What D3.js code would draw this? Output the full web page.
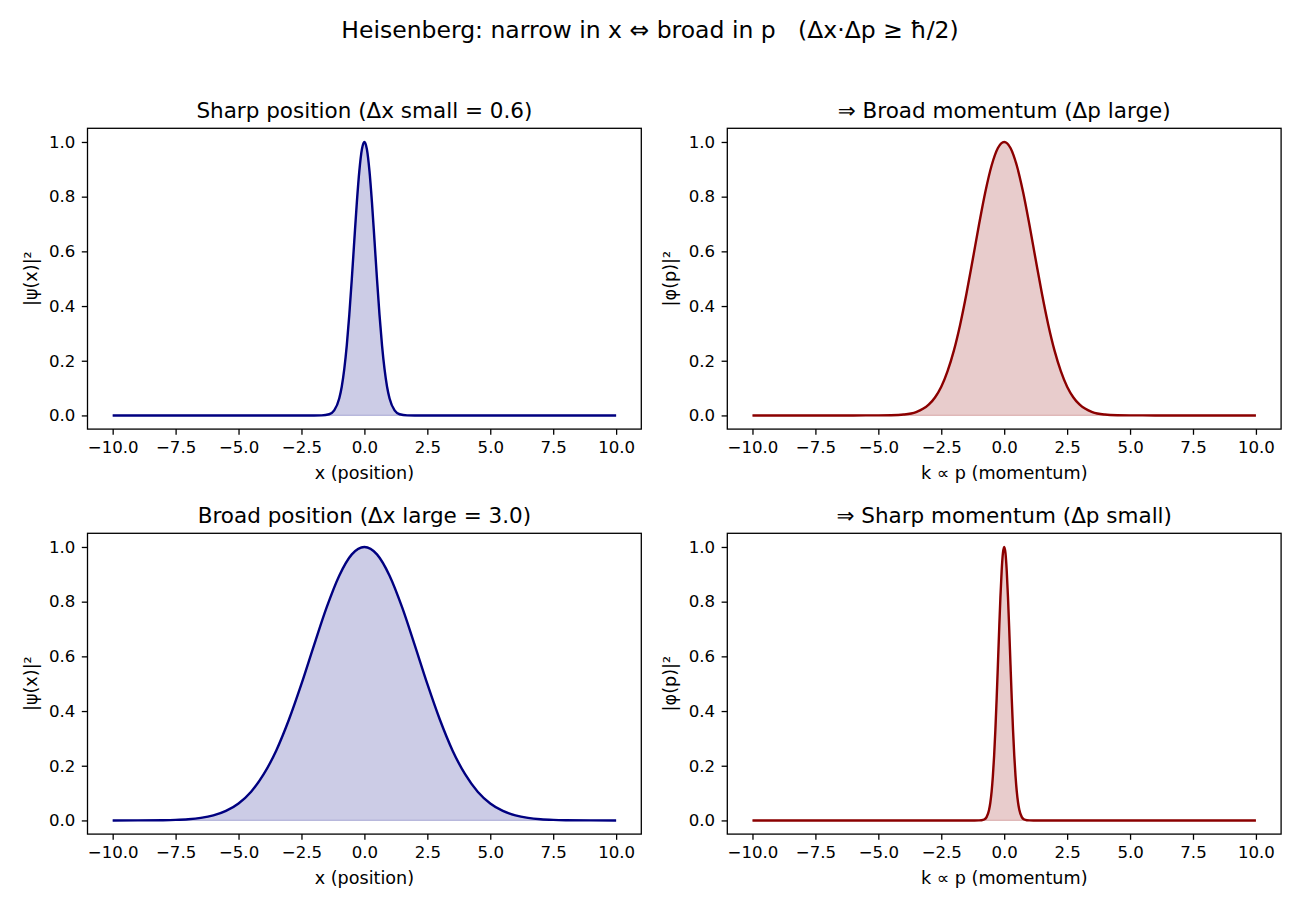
<!DOCTYPE html>
<html>
<head>
<meta charset="utf-8">
<script src="https://cdn.jsdelivr.net/npm/d3@7"></script>
<style>
  body { margin: 0; background: #fff; }
  svg { font-family: "DejaVu Sans", sans-serif; }
</style>
</head>
<body>
<div id="chart"></div>
<script>
// values
const posNarrowX = [-10, -2.0, -1.7, -1.4, -1.2, -1.0, -0.9, -0.8, -0.7, -0.6, -0.5, -0.4, -0.3, -0.2, -0.1, 0,
    0.1, 0.2, 0.3, 0.4, 0.5, 0.6, 0.7, 0.8, 0.9, 1.0, 1.2, 1.4, 1.7, 2.0, 10];
const posNarrowY = [0, 0, 0.0003, 0.0043, 0.0183, 0.062, 0.105, 0.169, 0.256, 0.368, 0.499, 0.641, 0.779, 0.895, 0.973, 1,
    0.973, 0.895, 0.779, 0.641, 0.499, 0.368, 0.256, 0.169, 0.105, 0.062, 0.0183, 0.0043, 0.0003, 0, 0];

const momBroadX = [-10, -6, -5, -4.5, -4, -3.5, -3, -2.75, -2.5, -2.25, -2, -1.75, -1.5, -1.25, -1, -0.75, -0.5, -0.25, 0,
    0.25, 0.5, 0.75, 1, 1.25, 1.5, 1.75, 2, 2.25, 2.5, 2.75, 3, 3.5, 4, 4.5, 5, 6, 10];
const momBroadY = [0, 0, 0.0001, 0.0007, 0.0032, 0.0122, 0.0392, 0.0657, 0.105, 0.162, 0.237, 0.332, 0.445, 0.570, 0.698, 0.817, 0.914, 0.978, 1,
    0.978, 0.914, 0.817, 0.698, 0.570, 0.445, 0.332, 0.237, 0.162, 0.105, 0.0657, 0.0392, 0.0122, 0.0032, 0.0007, 0.0001, 0, 0];

const posBroadX = [-10, -9, -8, -7.5, -7, -6.5, -6, -5.5, -5, -4.5, -4, -3.5, -3, -2.5, -2, -1.5, -1, -0.5, 0,
    0.5, 1, 1.5, 2, 2.5, 3, 3.5, 4, 4.5, 5, 5.5, 6, 6.5, 7, 7.5, 8, 9, 10];
const posBroadY = [0, 0.0001, 0.0008, 0.0019, 0.0043, 0.0092, 0.0183, 0.0347, 0.062, 0.105, 0.169, 0.256, 0.368, 0.499, 0.641, 0.779, 0.895, 0.973, 1,
    0.973, 0.895, 0.779, 0.641, 0.499, 0.368, 0.256, 0.169, 0.105, 0.062, 0.0347, 0.0183, 0.0092, 0.0043, 0.0019, 0.0008, 0.0001, 0];

const momNarrowX = [-10, -1.2, -1.0, -0.9, -0.8, -0.7, -0.6, -0.55, -0.5, -0.45, -0.4, -0.35, -0.3, -0.25, -0.2, -0.15, -0.1, -0.05, 0,
    0.05, 0.1, 0.15, 0.2, 0.25, 0.3, 0.35, 0.4, 0.45, 0.5, 0.55, 0.6, 0.7, 0.8, 0.9, 1.0, 1.2, 10];
const momNarrowY = [0, 0, 0.0001, 0.0007, 0.0032, 0.0122, 0.0392, 0.0657, 0.105, 0.162, 0.237, 0.332, 0.445, 0.570, 0.698, 0.817, 0.914, 0.978, 1,
    0.978, 0.914, 0.817, 0.698, 0.570, 0.445, 0.332, 0.237, 0.162, 0.105, 0.0657, 0.0392, 0.0122, 0.0032, 0.0007, 0.0001, 0, 0];

const titles = ["Sharp position (Δx small = 0.6)", "⇒ Broad momentum (Δp large)",
    "Broad position (Δx large = 3.0)", "⇒ Sharp momentum (Δp small)"];
const xLabels = ["x (position)", "k ∝ p (momentum)", "x (position)", "k ∝ p (momentum)"];
const yLabels = ["|ψ(x)|²", "|φ(p)|²", "|ψ(x)|²", "|φ(p)|²"];
const xTicks = [-10, -7.5, -5, -2.5, 0, 2.5, 5, 7.5, 10];
const yTicks = [0, 0.2, 0.4, 0.6, 0.8, 1.0];
const supTitle = "Heisenberg: narrow in x ⇔ broad in p   (Δx·Δp ≥ ħ/2)";

const panels = [
    { xs: posNarrowX, ys: posNarrowY, color: "#000080" },
    { xs: momBroadX, ys: momBroadY, color: "#8b0000" },
    { xs: posBroadX, ys: posBroadY, color: "#000080" },
    { xs: momNarrowX, ys: momNarrowY, color: "#8b0000" }
];

const W = 1300, H = 910;
const colX = [87.5, 727.3], rowY = [128.3, 533.3];
const pw = 553.8, ph = 300.8;

const svg = d3.select("#chart")
    .append("svg")
    .attr("width", W)
    .attr("height", H);

svg.append("text")
    .attr("x", 650)
    .attr("y", 38)
    .attr("text-anchor", "middle")
    .attr("font-size", "23.5px")
    .style("white-space", "pre")
    .text(supTitle);

const x = d3.scaleLinear().domain([-11, 11]).range([0, pw]);
const y = d3.scaleLinear().domain([-0.05, 1.05]).range([ph, 0]);
const fmt = d3.format(".1f");

panels.forEach((p, i) => {
    const g = svg.append("g")
        .attr("transform", `translate(${colX[i % 2]},${rowY[Math.floor(i / 2)]})`);

    const pts = p.xs.map((v, j) => [v, p.ys[j]]);

    // relleno bajo la curva
    g.append("path")
        .datum(pts)
        .attr("fill", p.color)
        .attr("fill-opacity", 0.2)
        .attr("stroke", p.color)
        .attr("stroke-opacity", 0.2)
        .attr("stroke-width", 1.2)
        .attr("d", d3.area()
            .curve(d3.curveMonotoneX)
            .x(d => x(d[0]))
            .y0(y(0))
            .y1(d => y(d[1])));

    g.append("path")
        .datum(pts)
        .attr("fill", "none")
        .attr("stroke", p.color)
        .attr("stroke-width", 2.4)
        .attr("stroke-linejoin", "round")
        .attr("d", d3.line()
            .curve(d3.curveMonotoneX)
            .x(d => x(d[0]))
            .y(d => y(d[1])));

    // ejes
    const xAxis = g.append("g")
        .attr("transform", `translate(0,${ph})`)
        .call(d3.axisBottom(x).tickValues(xTicks).tickFormat(fmt).tickSize(5.7).tickPadding(6.5));
    const yAxis = g.append("g")
        .call(d3.axisLeft(y).tickValues(yTicks).tickFormat(fmt).tickSize(5.7).tickPadding(6.5));

    [xAxis, yAxis].forEach(a => {
        a.select(".domain").remove();
        a.selectAll("line").attr("stroke", "#000").attr("stroke-width", 1.3);
        a.selectAll("text").attr("font-size", "16.6px").attr("fill", "#000")
            .attr("font-family", "DejaVu Sans, sans-serif");
    });

    g.append("rect")
        .attr("width", pw)
        .attr("height", ph)
        .attr("fill", "none")
        .attr("stroke", "#000")
        .attr("stroke-width", 1.3);

    g.append("text")
        .attr("x", pw / 2)
        .attr("y", -10.5)
        .attr("text-anchor", "middle")
        .attr("font-size", "21.5px")
        .text(titles[i]);

    g.append("text")
        .attr("x", pw / 2)
        .attr("y", ph + 50)
        .attr("text-anchor", "middle")
        .attr("font-size", "17.6px")
        .text(xLabels[i]);

    g.append("text")
        .attr("transform", `translate(-51,${ph / 2}) rotate(-90)`)
        .attr("text-anchor", "middle")
        .attr("font-size", "17.6px")
        .text(yLabels[i]);
});
</script>
</body>
</html>
